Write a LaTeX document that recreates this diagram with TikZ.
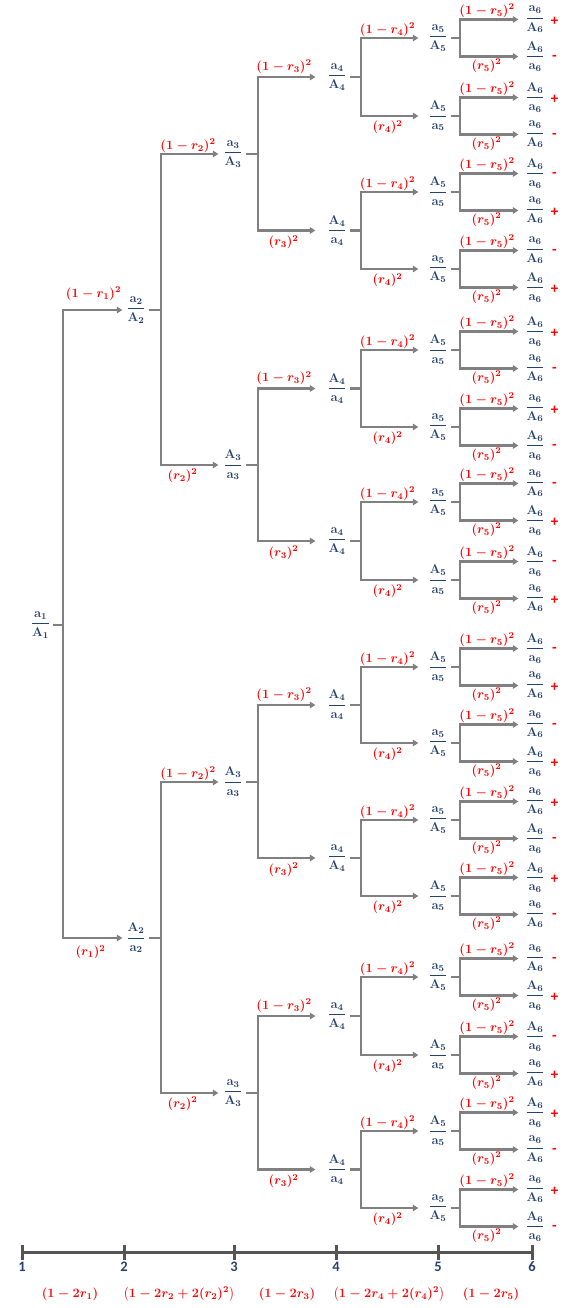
\RequirePackage{fix-cm}
\documentclass[tikz,border=0pt]{standalone}
\usepackage{amsmath}
\usepackage[no-math]{fontspec}
\newfontfamily\carl{Carlito}
\usetikzlibrary{arrows.meta,calc}
\definecolor{nblue}{HTML}{264270}
\definecolor{lred}{HTML}{FF0000}
\definecolor{lgray}{HTML}{808080}
\definecolor{agray}{HTML}{555555}
\newcommand\fsz{\fontsize{12.8}{15}\selectfont\boldmath}
\newcommand\frc[3]{$\dfrac{\mathbf{#1}_{#3}}{\mathbf{#2}_{#3}}$}
\tikzset{
  fr/.style={text=nblue, inner xsep=0pt, inner ysep=1pt, font=\fsz},
  lb/.style={text=lred, inner sep=0pt, font=\fsz},
  sgn/.style={text=lred, inner sep=0pt, font=\carl\fontsize{15}{15}\selectfont\bfseries},
  cn/.style={draw=lgray, line width=2.1pt, line join=miter, -{Triangle[length=5.5pt,width=6.5pt]}, shorten <=3pt},
  ax/.style={text=nblue, inner sep=0pt, font=\carl\fontsize{14.5}{14.5}\selectfont\bfseries},
  axl/.style={draw=agray, line width=3pt},
}
\begin{document}
\begin{tikzpicture}[x=1pt,y=-1pt]
\useasboundingbox (0,0) rectangle (586,1308);
\coordinate (v1) at (63,0);
\coordinate (v2) at (161,0);
\coordinate (v3) at (258,0);
\coordinate (v4) at (361,0);
\coordinate (v5) at (460,0);
% level 1
\node[fr] (n) at (40.5,625) {\frc{a}{A}{1}};
% level 2
\foreach \p/\c/\y/\nm/\dn/\s in {n/n0/310/a/A/0, n/n1/938/A/a/1}{
  \node[fr] (\c) at (136,\y) {\frc{\nm}{\dn}{2}};
  \draw[cn, shorten >=3.8pt] (\p.east) -- (\p.east -| v1) |- (\c.west);
  \ifnum\s=0 \node[lb] (l\c) at (93.5,\y-16) {$(1-r_{1})^{2}$};
  \else \node[lb] (l\c) at (90.5,\y+14.3) {$(r_{1})^{2}$};\fi
}
% level 3
\foreach \p/\c/\y/\nm/\dn/\s in {n0/n00/154/a/A/0, n0/n01/465/A/a/1, n1/n10/782/A/a/0, n1/n11/1093/a/A/1}{
  \node[fr] (\c) at (233,\y) {\frc{\nm}{\dn}{3}};
  \draw[cn, shorten >=4.8pt] (\p.east) -- (\p.east -| v2) |- (\c.west);
  \ifnum\s=0 \node[lb] (l\c) at (188,\y-8) {$(1-r_{2})^{2}$};
  \else \node[lb] (l\c) at (182.5,\y+11) {$(r_{2})^{2}$};\fi
}
% level 4
\foreach \p/\c/\y/\nm/\dn/\s in {n00/n000/77/a/A/0, n00/n001/230.5/A/a/1, n01/n010/388.5/A/a/0, n01/n011/541/a/A/1, n10/n100/705/A/a/0, n10/n101/858/a/A/1, n11/n110/1016/a/A/0, n11/n111/1169.5/A/a/1}{
  \node[fr] (\c) at (337,\y) {\frc{\nm}{\dn}{4}};
  \draw[cn, shorten >=11.8pt] (\p.east) -- (\p.east -| v3) |- (\c.west);
  \ifnum\s=0 \node[lb] (l\c) at (284,\y-10.4) {$(1-r_{3})^{2}$};
  \else \node[lb] (l\c) at (283.5,\y+11.7) {$(r_{3})^{2}$};\fi
}
% level 5
\foreach \p/\c/\y/\nm/\dn/\s in {n000/n0000/38/a/A/0, n000/n0001/116/A/a/1, n001/n0010/192/A/a/0, n001/n0011/269/a/A/1, n010/n0100/350/A/a/0, n010/n0101/427/a/A/1, n011/n0110/502/a/A/0, n011/n0111/580/A/a/1, n100/n1000/667/A/a/0, n100/n1001/743/a/A/1, n101/n1010/820/a/A/0, n101/n1011/896/A/a/1, n110/n1100/977/a/A/0, n110/n1101/1055/A/a/1, n111/n1110/1131/A/a/0, n111/n1111/1208/a/A/1}{
  \node[fr] (\c) at (438,\y) {\frc{\nm}{\dn}{5}};
  \draw[cn, shorten >=9.8pt] (\p.east) -- (\p.east -| v4) |- (\c.west);
  \ifnum\s=0 \node[lb] (l\c) at (387.5,\y-8.3) {$(1-r_{4})^{2}$};
  \else \node[lb] (l\c) at (387.5,\y+11.3) {$(r_{4})^{2}$};\fi
}
% level 6 (leaves)
\foreach \p/\c/\y/\nm/\dn/\s/\sg in {
  n0000/n00000/19.5/a/A/0/+, n0000/n00001/56.5/A/a/1/-,
  n0001/n00010/97.5/A/a/0/+, n0001/n00011/134.5/a/A/1/-,
  n0010/n00100/173.5/A/a/0/-, n0010/n00101/210.5/a/A/1/+,
  n0011/n00110/250.5/a/A/0/-, n0011/n00111/287.5/A/a/1/+,
  n0100/n01000/331.5/A/a/0/+, n0100/n01001/368.5/a/A/1/-,
  n0101/n01010/408.5/a/A/0/+, n0101/n01011/445.5/A/a/1/-,
  n0110/n01100/483.5/a/A/0/-, n0110/n01101/520.5/A/a/1/+,
  n0111/n01110/561.5/A/a/0/-, n0111/n01111/598.5/a/A/1/+,
  n1000/n10000/648.5/A/a/0/-, n1000/n10001/685.5/a/A/1/+,
  n1001/n10010/724.5/a/A/0/-, n1001/n10011/761.5/A/a/1/+,
  n1010/n10100/801.5/a/A/0/+, n1010/n10101/838.5/A/a/1/-,
  n1011/n10110/877.5/A/a/0/+, n1011/n10111/914.5/a/A/1/-,
  n1100/n11000/958.5/a/A/0/-, n1100/n11001/995.5/A/a/1/+,
  n1101/n11010/1036.5/A/a/0/-, n1101/n11011/1073.5/a/A/1/+,
  n1110/n11100/1112.5/A/a/0/+, n1110/n11101/1149.5/a/A/1/-,
  n1111/n11110/1189.5/a/A/0/+, n1111/n11111/1226.5/A/a/1/-}{
  \node[fr] (\c) at (535,\y) {\frc{\nm}{\dn}{6}};
  \draw[cn, shorten >=6.8pt] (\p.east) -- (\p.east -| v5) |- (\c.west);
  \ifnum\s=0 \node[lb] (l\c) at (487,\y-8.8) {$(1-r_{5})^{2}$};
  \else \node[lb] (l\c) at (486.5,\y+9) {$(r_{5})^{2}$};\fi
  \node[sgn] (s\c) at (554.5,\y+1.5) {\sg};
}
% axis
\coordinate (t1) at (22,1252);
\coordinate (t2) at (124,1252);
\coordinate (t3) at (234,1252);
\coordinate (t4) at (336,1252);
\coordinate (t5) at (438,1252);
\coordinate (t6) at (532,1252);
\draw[axl] (t1) -- (t6);
\foreach \i in {1,...,6}{
  \draw[axl] ($(t\i)+(0,-7.5)$) -- ($(t\i)+(0,7.5)$);
  \node[ax] (d\i) at ($(t\i)+(0,15)$) {\i};
}
\node[lb] (f1) at (70,1294) {$(1-2r_{1})$};
\node[lb] (f2) at (179,1294) {$\bigl(1-2r_{2}+2(r_{2})^{2}\bigr)$};
\node[lb] (f3) at (287,1294) {$(1-2r_{3})$};
\node[lb] (f4) at (389,1294) {$\bigl(1-2r_{4}+2(r_{4})^{2}\bigr)$};
\node[lb] (f5) at (491,1294) {$(1-2r_{5})$};
\end{tikzpicture}
\end{document}
